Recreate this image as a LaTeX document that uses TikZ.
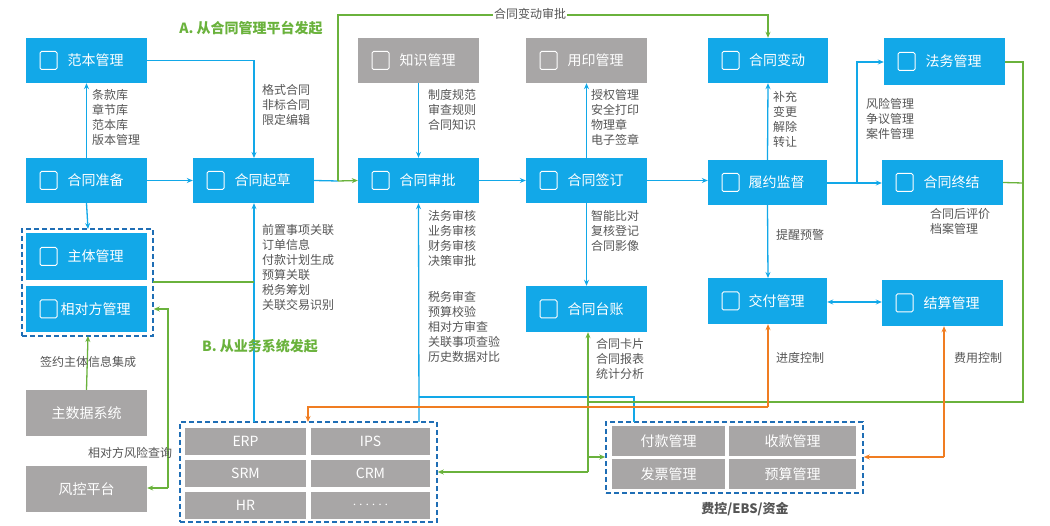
\documentclass[tikz,border=0pt]{standalone}
\usepackage{fontspec}
\setmainfont{Noto Sans CJK SC}
\usetikzlibrary{arrows.meta}
\definecolor{bl}{HTML}{12A8E8}
\definecolor{gr}{HTML}{A8A6A6}
\definecolor{gn}{HTML}{6AB23C}
\definecolor{og}{HTML}{F07D22}
\definecolor{tx}{HTML}{555555}
\definecolor{db}{HTML}{1F6EB5}
\tikzset{
 box/.style={fill=#1,text=white,font=\fontsize{14}{16}\selectfont,inner sep=0},
 cell/.style={fill=gr,text=white,font=\fontsize{14}{16}\selectfont,inner sep=0},
 lab/.style={text=tx,font=\fontsize{12}{15}\selectfont,align=left,inner sep=0},
 grp/.style={draw=db,dashed,line width=1.5pt,dash pattern=on 5pt off 3pt},
 ab/.style={bl,line width=1.3pt,-{Stealth[length=6pt,width=5pt]}},
 lb/.style={bl,line width=1.3pt},
 ag/.style={gn,line width=1.3pt,-{Stealth[length=6pt,width=5pt]}},
 lg/.style={gn,line width=1.3pt},
 ao/.style={og,line width=1.3pt,-{Stealth[length=6pt,width=5pt]}},
 ic/.style={white,line width=1pt,rounded corners=1.5pt},
}
\newcommand{\bx}[7]{\node[box=#6,minimum width=#4-#2,minimum height=#5-#3] (#1) at ({(#2+#4)/2},{(#3+#5)/2}) {\hspace*{18pt}#7};
\draw[ic] ({#2+14},{(#3+#5)/2-9}) rectangle ({#2+31},{(#3+#5)/2+9});}
\newcommand{\cl}[6]{\node[cell,minimum width=#4-#2,minimum height=#5-#3] (#1) at ({(#2+#4)/2},{(#3+#5)/2}) {#6};}
\begin{document}
\begin{tikzpicture}[x=1pt,y=-1pt]
\useasboundingbox (0,0) rectangle (1050,526);
% boxes
\bx{fb}{26}{38}{147}{83}{bl}{范本管理}
\bx{zb}{26}{158}{147}{203}{bl}{合同准备}
\bx{qc}{193}{158}{314}{203}{bl}{合同起草}
\bx{zs}{358}{38}{479}{83}{gr}{知识管理}
\bx{sp}{358}{158}{479}{203}{bl}{合同审批}
\bx{yy}{526}{38}{647}{83}{gr}{用印管理}
\bx{qd}{526}{158}{647}{203}{bl}{合同签订}
\bx{bd}{708}{38}{828}{83}{bl}{合同变动}
\bx{ly}{708}{160}{827}{205}{bl}{履约监督}
\bx{fw}{884}{38}{1005}{85}{bl}{法务管理}
\bx{zj}{882}{160}{1003}{205}{bl}{合同终结}
\bx{zt}{26}{233}{147}{280}{bl}{主体管理}
\bx{xd}{26}{286}{147}{332}{bl}{相对方管理}
\bx{tz}{526}{286}{647}{332}{bl}{合同台账}
\bx{jf}{708}{278}{827}{324}{bl}{交付管理}
\bx{js}{882}{280}{1003}{326}{bl}{结算管理}
\node[box=gr,minimum width=121,minimum height=46] (zsj) at (86.5,413) {主数据系统};
\node[box=gr,minimum width=121,minimum height=46] (fk) at (86.5,489) {风控平台};
% groups
\node[grp,minimum width=131,minimum height=107,inner sep=0] (g1) at (87.5,282.5) {};
\cl{erp}{185}{428}{306}{455}{ERP}
\cl{ips}{311}{428}{430}{455}{IPS}
\cl{srm}{185}{460}{306}{487}{SRM}
\cl{crm}{311}{460}{430}{487}{CRM}
\cl{hr}{185}{492}{306}{519}{HR}
\cl{dots}{311}{492}{430}{519}{$\cdots\cdots$}
\node[grp,minimum width=257,minimum height=100,inner sep=0] (g2) at (308.5,472) {};
\cl{fkg}{612}{426}{725}{456}{付款管理}
\cl{skg}{729}{426}{856}{456}{收款管理}
\cl{fpg}{612}{459}{725}{489}{发票管理}
\cl{ysg}{729}{459}{856}{489}{预算管理}
\node[grp,minimum width=257,minimum height=71,inner sep=0] (g3) at (734.5,457.5) {};
\node[text=tx,font=\bfseries\fontsize{13}{15}\selectfont] (fkl) at (745,509) {费控/EBS/资金};
% blue connectors
\draw[ab] (zb.north) -- (fb.south);
\draw[ab] (fb.east) -- (254,60.5) -- (254,158);
\draw[ab] (zb.east) -- (qc.west);
\draw[ab] (zb.south) -- (88,229);
\draw[lb] (qc.east) -- (338,181);
\draw[ab] (zs.south) -- (sp.north);
\draw[ab] (sp.east) -- (qd.west);
\draw[ab] (qd.north) -- (yy.south);
\draw[ab] (qd.south) -- (tz.north);
\draw[ab] (qd.east) -- (ly.west|-qd.east);
\draw[ab] (ly.north) -- (bd.north|-bd.south);
\draw[ab] (ly.east|-0,183) -- (zj.west|-0,183);
\draw[ab] (857,183) -- (857,62) -- (fw.west|-0,62);
\draw[ab] (ly.south) -- (768,278);
\draw[bl,line width=1.3pt,{Stealth[length=6pt,width=5pt]}-{Stealth[length=6pt,width=5pt]}] (jf.east|-0,302) -- (js.west|-0,302);
\draw[ab] (254,422) -- (qc.south-|254,0);
\draw[ab] (419,422) -- (sp.south);
\draw[lb] (419,397) -- (634,397) -- (634,422);
% green
\draw[ag] (338,181) -- (sp.west);
\draw[ag] (338,181) -- (338,15) -- (768,15) -- (bd.north);
\node[fill=white,text=tx,font=\fontsize{12}{14}\selectfont,inner sep=1pt] (bdl) at (530,14) {合同变动审批};
\node[text=gn,font=\bfseries\fontsize{14}{16}\selectfont] (la) at (251,28) {A. 从合同管理平台发起};
\node[text=gn,font=\bfseries\fontsize{14}{16}\selectfont] (lbb) at (260,346) {B. 从业务系统发起};
\draw[lg] (fw.east|-0,62) -- (1023,62) -- (1023,402) -- (588,402);
\draw[lg] (zj.east) -- (1023,183);
\draw[ag] (588,472) -- (tz.south-|588,0);
\draw[ag] (588,472) -- (g2.east|-0,472);
\draw[ag] (588,457) -- (g3.west|-0,457);
\draw[lg] (153,282) -- (254,282);
\draw[ag] (zsj.north) -- (88,336);
\draw[ag] (168,488) -- (168,309) -- (g1.east|-0,309);
\draw[ag] (168,488) -- (fk.east|-0,488);
% orange
\draw[ao] (768,407) -- (jf.south-|768,0);
\draw[ao] (768,407) -- (308,407) -- (308,422);
\draw[ao] (944,457) -- (js.south-|944,0);
\draw[ao] (944,457) -- (g3.east|-0,457);
% labels
\node[lab,anchor=north west] (l1) at (92,89) {条款库\\章节库\\范本库\\版本管理};
\node[lab,anchor=north west] (l2) at (262,84) {格式合同\\非标合同\\限定编辑};
\node[lab,anchor=north west] (l3) at (428,89) {制度规范\\审查规则\\合同知识};
\node[lab,anchor=north west] (l4) at (591,89) {授权管理\\安全打印\\物理章\\电子签章};
\node[lab,anchor=north west] (l5) at (773,91) {补充\\变更\\解除\\转让};
\node[lab,anchor=north west] (l6) at (866,98) {风险管理\\争议管理\\案件管理};
\node[lab,anchor=north west] (l7) at (262,224) {前置事项关联\\订单信息\\付款计划生成\\预算关联\\税务筹划\\关联交易识别};
\node[lab,anchor=north west] (l8) at (428,210) {法务审核\\业务审核\\财务审核\\决策审批};
\node[lab,anchor=north west] (l9) at (428,291) {税务审查\\预算校验\\相对方审查\\关联事项查验\\历史数据对比};
\node[lab,anchor=north west] (l10) at (591,210) {智能比对\\复核登记\\合同影像};
\node[lab,anchor=north west] (l11) at (596,338) {合同卡片\\合同报表\\统计分析};
\node[lab,anchor=north west] (l12) at (930,208) {合同后评价\\档案管理};
\node[lab] (l13) at (800,235) {提醒预警};
\node[lab] (l14) at (800,358) {进度控制};
\node[lab] (l15) at (978,358) {费用控制};
\node[lab] (l16) at (88,362) {签约主体信息集成};
\node[lab] (l17) at (130,453) {相对方风险查询};
\end{tikzpicture}
\end{document}
